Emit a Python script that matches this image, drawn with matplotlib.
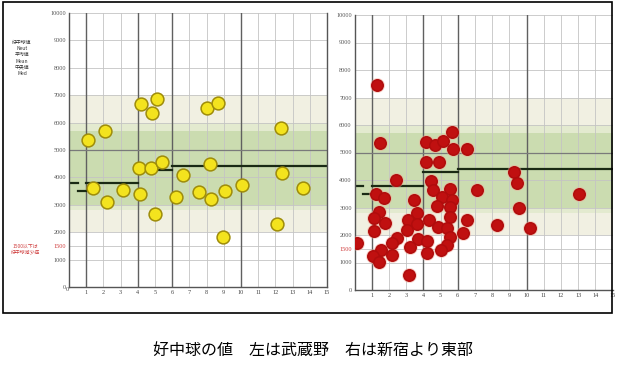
import numpy as np
import matplotlib
matplotlib.use("Agg")
from matplotlib import pyplot as plt
from matplotlib.patches import Rectangle

plt.rcParams['font.family'] = ['Noto Sans CJK JP', 'DejaVu Sans']

# left chart (Musashino), age vs neutrophil count
left_age = [1.09, 2.09, 1.42, 2.19, 3.15, 4.12, 4.21, 5.14, 4.83, 4.06, 4.79, 5.43, 4.98, 6.20,
            6.62, 7.54, 8.03, 8.64, 8.22, 8.26, 9.09, 8.93, 10.03, 12.34, 12.38, 12.11, 13.60]
left_neut = [5350, 5700, 3620, 3090, 3530, 3390, 6670, 6850, 6340, 4330, 4350, 4570, 2650, 3300,
             4090, 3480, 6520, 6700, 4490, 3210, 3500, 1810, 3720, 5790, 4150, 2290, 3600]

# right chart (east of Shinjuku)
right_age = [1.48, 5.65, 4.16, 4.68, 5.13, 5.75, 6.56, 4.16, 4.93, 2.41, 4.45, 7.14, 1.25, 1.72,
             4.55, 5.55, 5.07, 5.65, 3.48, 1.44, 1.13, 1.77, 3.62, 4.81, 5.53, 3.13, 3.62, 4.35,
             5.55, 6.56, 1.13, 3.03, 4.87, 5.36, 6.33, 0.16, 2.45, 2.16, 3.71, 4.23, 3.23, 5.55,
             5.36, 5.01, 4.20, 1.52, 1.06, 1.44, 2.16, 3.19, 1.29, 9.29, 9.43, 13.07, 9.56, 8.27,
             10.20]
right_neut = [5360, 5760, 5370, 5270, 5430, 5120, 5120, 4670, 4670, 4000, 3970, 3640, 3490, 3330,
              3640, 3670, 3390, 3270, 3270, 2850, 2610, 2450, 2790, 3050, 3030, 2550, 2400, 2550,
              2640, 2550, 2160, 2180, 2280, 2240, 2060, 1720, 1880, 1700, 1850, 1790, 1580, 1920,
              1640, 1450, 1330, 1450, 1240, 1030, 1270, 550, 7450, 4280, 3900, 3480, 2970, 2360,
              2240]

# reference mean line by age group
ref_from = [0, 0.5, 1, 4, 6]
ref_to = [0.5, 1, 4, 6, 15]
ref_mean = [3800, 3500, 3800, 4280, 4400]

# reference bands (low, high)
band_low = [2000, 2800, 3000]
band_high = [7000, 6000, 5700]
band_colors = ['#f1f0e2', '#e3eacf', '#cbdcb0']

ytick_vals = [0, 1000, 1500, 2000, 3000, 4000, 5000, 6000, 7000, 8000, 9000, 10000]
xtick_vals = list(range(16))

fig = plt.figure(figsize=(6.25, 3.65), dpi=100)


def draw_panel(ax, ages, neut, face, edge, size, halo=None):
    for lo, hi, c in zip(band_low, band_high, band_colors):
        ax.axhspan(lo, hi, color=c, lw=0, zorder=0)
    for y in ytick_vals:
        ax.axhline(y, color='#c4c4c4', lw=0.6, zorder=1)
    for x in xtick_vals:
        ax.axvline(x, color='#c4c4c4', lw=0.6, zorder=1)
    for x in [1, 4, 6, 10]:
        ax.axvline(x, color='#606060', lw=1.0, zorder=1)
    ax.axhline(5000, color='#7a7a7a', lw=0.9, zorder=1)
    for a, b, m in zip(ref_from, ref_to, ref_mean):
        ax.plot([a, b], [m, m], color='#1a2a14', lw=1.6, zorder=2)
    if halo:
        ax.scatter(ages, neut, s=size * 1.7, color=halo, alpha=0.45, lw=0, zorder=3)
    ax.scatter(ages, neut, s=size, color=face, edgecolors=edge, linewidths=1.1, zorder=4)
    ax.set_xlim(0, 15)
    ax.set_ylim(0, 10000)
    ax.set_xticks(xtick_vals)
    ax.set_xticklabels([str(v) if v else '' for v in xtick_vals],
                       fontsize=4.5, color='#444444', family='Liberation Serif')
    ax.set_yticks(ytick_vals)
    ax.set_yticklabels([str(v) for v in ytick_vals],
                       fontsize=4.5, color='#555555', family='Liberation Serif')
    for lab, v in zip(ax.get_yticklabels(), ytick_vals):
        if v == 1500:
            lab.set_color('#d04040')
    ax.tick_params(length=0, pad=2)
    ax.spines['top'].set_visible(False)
    for s in ['left', 'bottom', 'right']:
        ax.spines[s].set_color('#555555')
        ax.spines[s].set_linewidth(1.0)


ax1 = fig.add_axes([69 / 625, 1 - 287 / 365, 258 / 625, 274 / 365])
draw_panel(ax1, left_age, left_neut, '#f3e31e', '#9e8c0a', 85)
ax1.text(0.0, 0.0, '0', transform=ax1.transAxes, fontsize=4.5, color='#444444',
         family='Liberation Serif', ha='right', va='top')

ax2 = fig.add_axes([354.5 / 625, 1 - 290 / 365, 258 / 625, 275 / 365])
draw_panel(ax2, right_age, right_neut, '#c01010', '#b00c0c', 68, halo='#f3a593')
ax2.spines['right'].set_visible(False)

# legend-like notes on the left margin
fig.text(22 / 625, 1 - 58 / 365, '好中球値\nNeut\n平均値\nMean\n中央値\nMed',
         fontsize=3.5, color='#333333', ha='center', va='center', linespacing=1.3)
fig.text(25 / 625, 1 - 249 / 365, '1500以下は\n好中球減少症', fontsize=3.5, color='#d04040',
         ha='center', va='center', linespacing=1.2)

fig.patches.append(Rectangle((3 / 625, 1 - 313 / 365), 609 / 625, 311 / 365,
                             transform=fig.transFigure, fill=False, lw=1.2, ec='black'))

fig.text(313 / 625, 1 - 350 / 365, '好中球の値　左は武蔵野　右は新宿より東部',
         fontsize=11.5, ha='center', va='center', color='black')

fig.savefig('out.png', dpi=100)
